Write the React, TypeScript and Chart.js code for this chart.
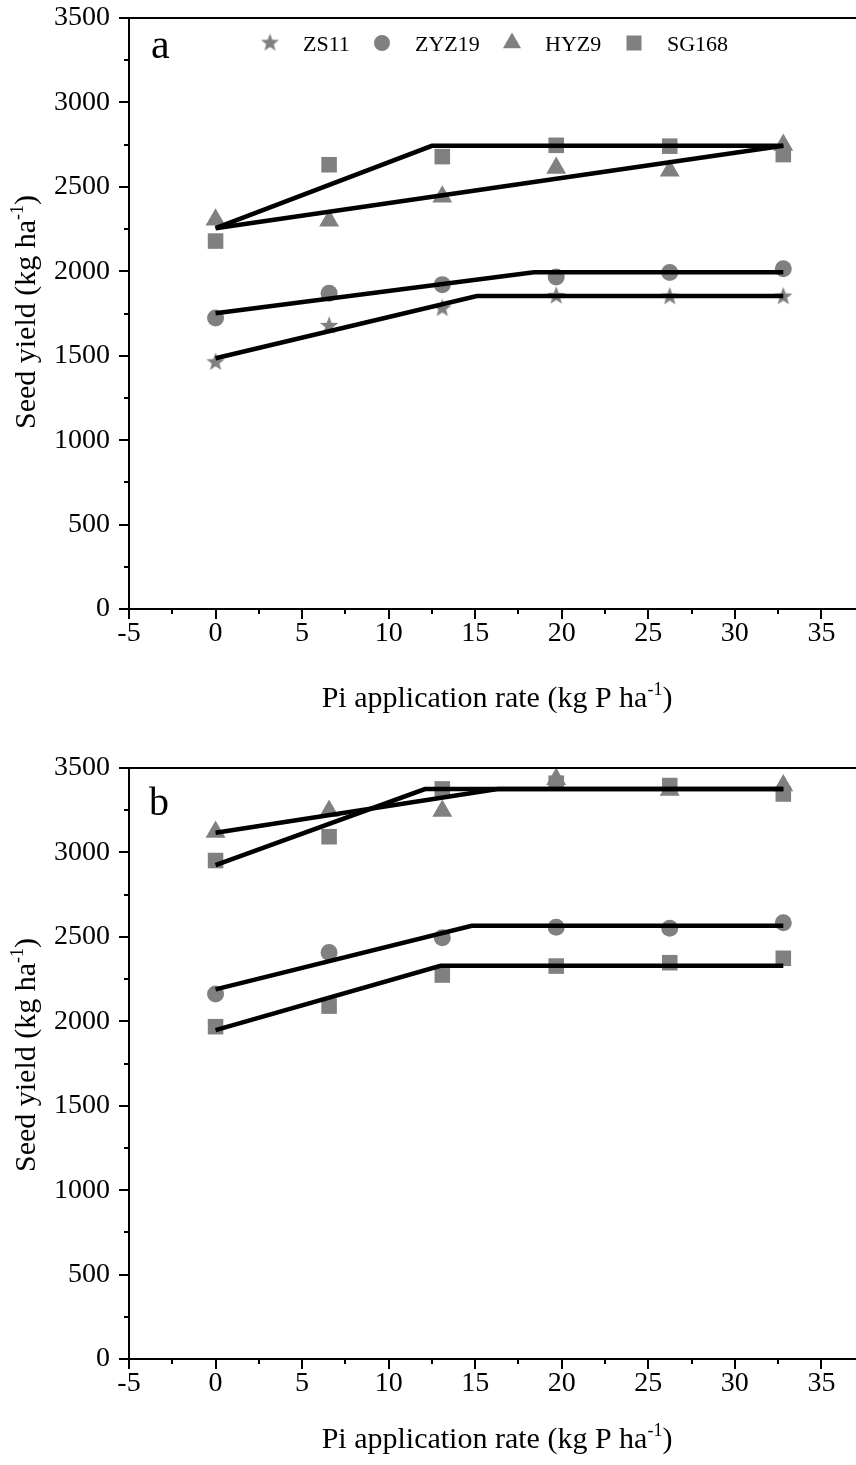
import React, { useEffect, useRef } from "react";
import { Chart, registerables } from "chart.js";

Chart.register(...registerables);

const FONT = "'Liberation Serif', 'Times New Roman', Times, serif";
const GRAY = "#808080";

// Pi application rates (kg P/ha)
const rates = [0, 6.56, 13.1, 19.68, 26.24, 32.8];
const legendNames = ["ZS11", "ZYZ19", "HYZ9", "SG168"];

// Panel a observed seed yields (kg/ha)
const aZS11 = [1461, 1676, 1780, 1854, 1850, 1850];
const aZYZ19 = [1723, 1870, 1921, 1966, 1993, 2015];
const aHYZ9 = [2305, 2300, 2441, 2611, 2596, 2748];
const aSG168 = [2179, 2631, 2679, 2746, 2741, 2691];

// Panel a fitted linear-plateau lines (knots)
const aFitZS11X = [0, 15.1, 32.8];
const aFitZS11Y = [1485, 1854, 1854];
const aFitZYZ19X = [0, 18.4, 32.8];
const aFitZYZ19Y = [1751, 1994, 1994];
const aFitHYZ9X = [0, 32.8];
const aFitHYZ9Y = [2255, 2743];
const aFitSG168X = [0, 12.5, 32.8];
const aFitSG168Y = [2255, 2743, 2743];

// Panel b observed seed yields (kg/ha)
const bZS11 = [1968, 2090, 2274, 2327, 2347, 2373];
const bZYZ19 = [2162, 2408, 2495, 2557, 2551, 2584];
const bHYZ9 = [3121, 3245, 3245, 3434, 3369, 3396];
const bSG168 = [2952, 3093, 3376, 3410, 3396, 3346];

// Panel b fitted linear-plateau lines (knots)
const bFitZS11X = [0, 13.0, 32.8];
const bFitZS11Y = [1948, 2329, 2329];
const bFitZYZ19X = [0, 14.8, 32.8];
const bFitZYZ19Y = [2189, 2566, 2566];
const bFitHYZ9X = [0, 16.3, 32.8];
const bFitHYZ9Y = [3117, 3375, 3375];
const bFitSG168X = [0, 12.1, 32.8];
const bFitSG168Y = [2925, 3375, 3375];

// Axis ticks
const xMin = -5;
const xMax = 37;
const xStep = 5;
const yMin = 0;
const yMax = 3500;
const yStep = 500;
const xMinorTicks = [-2.5, 2.5, 7.5, 12.5, 17.5, 22.5, 27.5, 32.5];
const yMinorTicks = [250, 750, 1250, 1750, 2250, 2750, 3250];

const xTitleParts = ["Pi application rate (kg P ha", "-1", ")"];
const yTitleParts = ["Seed yield (kg ha", "-1", ")"];

function starPath(ctx: CanvasRenderingContext2D, cx: number, cy: number, R: number) {
  const r = R * 0.42;
  ctx.beginPath();
  for (let i = 0; i < 10; i++) {
    const rad = i % 2 === 0 ? R : r;
    const ang = -Math.PI / 2 + (i * Math.PI) / 5;
    const px = cx + rad * Math.cos(ang);
    const py = cy + rad * Math.sin(ang);
    if (i === 0) ctx.moveTo(px, py);
    else ctx.lineTo(px, py);
  }
  ctx.closePath();
}

function makeStar(R: number) {
  const c = document.createElement("canvas");
  const s = Math.ceil(R * 2 + 2);
  c.width = s;
  c.height = s;
  const ctx = c.getContext("2d")!;
  ctx.fillStyle = GRAY;
  starPath(ctx, s / 2, s / 2, R);
  ctx.fill();
  return c;
}

function drawRich(
  ctx: CanvasRenderingContext2D,
  parts: string[],
  cx: number,
  baseY: number,
  size: number
) {
  const supSize = Math.round(size * 0.6);
  const fonts = [`${size}px ${FONT}`, `${supSize}px ${FONT}`, `${size}px ${FONT}`];
  const dys = [0, -size * 0.4, 0];
  let total = 0;
  const widths = parts.map((p, i) => {
    ctx.font = fonts[i];
    const w = ctx.measureText(p).width;
    total += w;
    return w;
  });
  let x = cx - total / 2;
  ctx.textAlign = "left";
  ctx.textBaseline = "alphabetic";
  ctx.fillStyle = "#000";
  parts.forEach((p, i) => {
    ctx.font = fonts[i];
    ctx.fillText(p, x, baseY + dys[i]);
    x += widths[i];
  });
}

type PanelCfg = {
  key: string;
  height: number;
  plotTop: number;
  plotBottom: number;
  letter: string;
  letterX: number;
  letterY: number;
  letterSize: number;
  xTitleY: number;
  yTitleCY: number;
  legend: boolean;
  fits: [number[], number[]][];
  series: { ys: number[]; style: string }[];
};

const panels: PanelCfg[] = [
  {
    key: "a",
    height: 740,
    plotTop: 18,
    plotBottom: 609,
    letter: "a",
    letterX: 151,
    letterY: 58,
    letterSize: 42,
    xTitleY: 707,
    yTitleCY: 312,
    legend: true,
    fits: [
      [aFitZS11X, aFitZS11Y],
      [aFitZYZ19X, aFitZYZ19Y],
      [aFitHYZ9X, aFitHYZ9Y],
      [aFitSG168X, aFitSG168Y],
    ],
    series: [
      { ys: aZS11, style: "star" },
      { ys: aZYZ19, style: "circle" },
      { ys: aHYZ9, style: "triangle" },
      { ys: aSG168, style: "rect" },
    ],
  },
  {
    key: "b",
    height: 725,
    plotTop: 28,
    plotBottom: 619,
    letter: "b",
    letterX: 149,
    letterY: 75,
    letterSize: 40,
    xTitleY: 708,
    yTitleCY: 315,
    legend: false,
    fits: [
      [bFitZS11X, bFitZS11Y],
      [bFitZYZ19X, bFitZYZ19Y],
      [bFitHYZ9X, bFitHYZ9Y],
      [bFitSG168X, bFitSG168Y],
    ],
    series: [
      { ys: bZS11, style: "rect" },
      { ys: bZYZ19, style: "circle" },
      { ys: bHYZ9, style: "triangle" },
      { ys: bSG168, style: "rect" },
    ],
  },
];

const radiusFor: Record<string, number> = { circle: 8.5, triangle: 11.5, rect: 11, star: 9 };

function Panel({ cfg }: { cfg: PanelCfg }) {
  const ref = useRef<HTMLCanvasElement>(null);
  useEffect(() => {
    const canvas = ref.current!;
    const starImg = makeStar(9.7);
    const legendStar = makeStar(9.5);

    const fitSets = cfg.fits.map(([xs, ys]) => ({
      data: xs.map((x, i) => ({ x, y: ys[i] })),
      showLine: true,
      borderColor: "#000",
      borderWidth: 4.5,
      borderCapStyle: "butt",
      borderJoinStyle: "miter",
      pointRadius: 0,
      fill: false,
    }));
    const markerSets = cfg.series.map((s) => ({
      data: rates.map((x, i) => ({ x, y: s.ys[i] })),
      showLine: false,
      pointStyle: s.style === "star" ? starImg : s.style,
      pointRadius: radiusFor[s.style],
      pointBackgroundColor: GRAY,
      pointBorderColor: GRAY,
      pointBorderWidth: 0,
    }));

    const decor = {
      id: "decor" + cfg.key,
      afterDraw(chart: any) {
        const { ctx, chartArea: a, scales } = chart;
        const xs = scales.x;
        const ys = scales.y;
        ctx.save();
        ctx.strokeStyle = "#000";
        ctx.lineWidth = 2;
        ctx.beginPath();
        ctx.moveTo(a.left - 1, a.top);
        ctx.lineTo(a.right, a.top);
        ctx.stroke();
        ctx.lineWidth = 2;
        xMinorTicks.forEach((v) => {
          const px = Math.round(xs.getPixelForValue(v));
          ctx.beginPath();
          ctx.moveTo(px, a.bottom);
          ctx.lineTo(px, a.bottom + 5);
          ctx.stroke();
        });
        yMinorTicks.forEach((v) => {
          const py = Math.round(ys.getPixelForValue(v));
          ctx.beginPath();
          ctx.moveTo(a.left - 5, py);
          ctx.lineTo(a.left, py);
          ctx.stroke();
        });
        // axis titles
        drawRich(ctx, xTitleParts, 497, cfg.xTitleY, 30);
        ctx.save();
        ctx.translate(35, cfg.yTitleCY);
        ctx.rotate(-Math.PI / 2);
        drawRich(ctx, yTitleParts, 0, 0, 30);
        ctx.restore();
        // panel letter
        ctx.fillStyle = "#000";
        ctx.font = `${cfg.letterSize}px ${FONT}`;
        ctx.textAlign = "left";
        ctx.textBaseline = "alphabetic";
        ctx.fillText(cfg.letter, cfg.letterX, cfg.letterY);
        // legend
        if (cfg.legend) {
          const cy = 43;
          const markerX = [270, 382, 512, 634];
          const textX = [303, 415, 545, 667];
          ctx.fillStyle = GRAY;
          ctx.drawImage(legendStar, markerX[0] - legendStar.width / 2, cy - legendStar.height / 2);
          ctx.beginPath();
          ctx.arc(markerX[1], cy, 8, 0, Math.PI * 2);
          ctx.fill();
          const tr = 10.5;
          ctx.beginPath();
          ctx.moveTo(markerX[2], cy - tr);
          ctx.lineTo(markerX[2] + tr * 0.866, cy + tr / 2);
          ctx.lineTo(markerX[2] - tr * 0.866, cy + tr / 2);
          ctx.closePath();
          ctx.fill();
          ctx.fillRect(markerX[3] - 7.5, cy - 7.5, 15, 15);
          ctx.fillStyle = "#000";
          ctx.font = `22px ${FONT}`;
          legendNames.forEach((n, i) => ctx.fillText(n, textX[i], 50.5));
        }
        ctx.restore();
      },
    };

    const axisCommon = {
      grid: {
        display: true,
        drawOnChartArea: false,
        drawTicks: true,
        tickLength: 10,
        color: "#000",
        lineWidth: 2,
      },
      border: { display: true, color: "#000", width: 2 },
    };

    const chart = new Chart(canvas, {
      type: "scatter",
      data: { datasets: [...fitSets, ...markerSets] as any },
      options: {
        responsive: false,
        maintainAspectRatio: false,
        animation: false,
        events: [],
        layout: {
          autoPadding: false,
          padding: { top: cfg.plotTop, left: 0, right: 0, bottom: 0 },
        },
        plugins: {
          legend: { display: false },
          title: { display: false },
          tooltip: { enabled: false },
        },
        scales: {
          x: {
            type: "linear",
            min: xMin,
            max: xMax,
            afterFit: (s: any) => {
              s.height = cfg.height - cfg.plotBottom;
              s.paddingRight = 0;
              s.paddingLeft = 0;
            },
            ticks: {
              stepSize: xStep,
              includeBounds: false,
              autoSkip: false,
              maxRotation: 0,
              color: "#000",
              font: { family: FONT, size: 28 },
              padding: -2,
              callback: (v: any) => String(v),
            },
            ...axisCommon,
          },
          y: {
            type: "linear",
            min: yMin,
            max: yMax,
            afterFit: (s: any) => {
              s.width = 129;
              s.paddingTop = 0;
              s.paddingBottom = 0;
            },
            ticks: {
              stepSize: yStep,
              color: "#000",
              font: { family: FONT, size: 28 },
              padding: 9,
              callback: (v: any) => String(v),
            },
            ...axisCommon,
          },
        },
      } as any,
      plugins: [decor],
    });
    return () => chart.destroy();
  }, []);
  return (
    <canvas
      ref={ref}
      width={856}
      height={cfg.height}
      style={{ display: "block", width: 856, height: cfg.height }}
    />
  );
}

export default function App() {
  return (
    <div
      style={{
        position: "absolute",
        left: 0,
        top: 0,
        width: 856,
        height: 1465,
        background: "#fff",
        overflow: "hidden",
      }}
    >
      {panels.map((p) => (
        <Panel key={p.key} cfg={p} />
      ))}
    </div>
  );
}
